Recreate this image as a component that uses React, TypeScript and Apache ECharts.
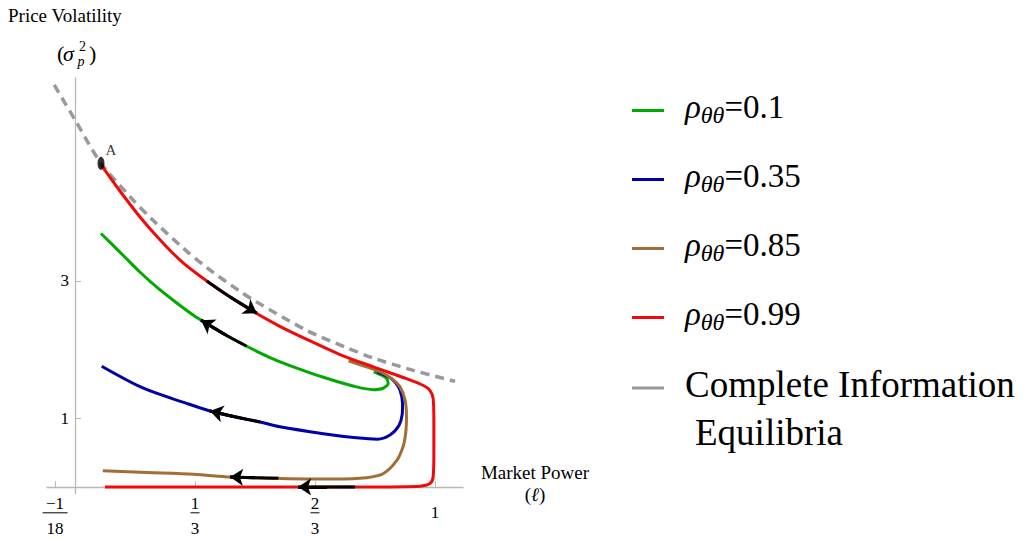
import React, { useEffect, useRef } from 'react';
import * as echarts from 'echarts';

const FONT = 'Liberation Serif, Times New Roman, serif';

// Axis ranges
const xMin = -0.078;
const xMax = 1.078;
const yMin = -0.09;
const yMax = 5.95;

// Tick values and labels
const xTickValues = [-1 / 18, 1 / 3, 2 / 3, 1];
const xTickNumerators = ['−1', '1', '2', '1'];
const xTickDenominators = ['18', '3', '3', ''];
const yTickValues = [1, 3];

// Legend texts
const rhoValues = ['0.1', '0.35', '0.85', '0.99'];
const seriesNames = rhoValues.map((v) => `ρθθ=${v}`);
const completeName = 'Complete Information Equilibria';
const seriesColors = ['#00aa00', '#0000aa', '#a36d36', '#f00a0a'];
const completeColor = '#999999';

// Curves: [market power, price volatility]
const completeInfo = [
  [-0.058, 5.85], [0, 5.34], [0.071, 4.72], [0.15, 4.24], [0.213, 3.9], [0.3, 3.48],
  [0.367, 3.19], [0.458, 2.85], [0.506, 2.69], [0.644, 2.28], [0.75, 2.04], [0.828, 1.88],
  [0.94, 1.7], [1.056, 1.54],
];
const rho010 = [
  [0.072, 3.69], [0.134, 3.37], [0.18, 3.13], [0.227, 2.91], [0.28, 2.69], [0.329, 2.5],
  [0.356, 2.41], [0.42, 2.21], [0.477, 2.05], [0.54, 1.89], [0.597, 1.77], [0.69, 1.6],
  [0.782, 1.46], [0.829, 1.42], [0.856, 1.44], [0.87, 1.51], [0.866, 1.58], [0.852, 1.63],
  [0.83, 1.68],
];
const rho035 = [
  [0.074, 1.76], [0.19, 1.44], [0.31, 1.22], [0.375, 1.11], [0.44, 1.03], [0.514, 0.95],
  [0.569, 0.88], [0.69, 0.78], [0.782, 0.72], [0.84, 0.7], [0.875, 0.76], [0.9, 0.9],
  [0.909, 1.06], [0.91, 1.22], [0.903, 1.41], [0.889, 1.53], [0.87, 1.61], [0.84, 1.68],
];
const rho085 = [
  [0.077, 0.24], [0.2, 0.215], [0.329, 0.19], [0.431, 0.15], [0.5, 0.14], [0.565, 0.13],
  [0.718, 0.12], [0.81, 0.14], [0.857, 0.2], [0.894, 0.39], [0.912, 0.6], [0.919, 0.8],
  [0.921, 1.02], [0.917, 1.27], [0.903, 1.46], [0.88, 1.58], [0.847, 1.68], [0.81, 1.75],
  [0.76, 1.84],
];
const rho099 = [
  [0.072, 4.69], [0.12, 4.34], [0.185, 3.9], [0.25, 3.52], [0.301, 3.26], [0.366, 3.0],
  [0.43, 2.77], [0.5, 2.54], [0.569, 2.34], [0.644, 2.15], [0.736, 1.93], [0.829, 1.75],
  [0.921, 1.58], [0.968, 1.48], [0.986, 1.41], [0.995, 1.29], [0.997, 0.98], [0.997, 0.5],
  [0.995, 0.15], [0.986, 0.054], [0.958, 0.016], [0.83, 0.006], [0.083, 0.006],
];

// Direction arrows (tail ... tip)
const arrowRedTop = [[0.366, 3.0], [0.43, 2.77], [0.505, 2.53]];
const arrowGreen = [[0.477, 2.05], [0.42, 2.21], [0.35, 2.43]];
const arrowBlue = [[0.514, 0.95], [0.44, 1.03], [0.375, 1.11]];
const arrowBrown = [[0.565, 0.13], [0.5, 0.14], [0.431, 0.15]];
const arrowRedBottom = [[0.778, 0.006], [0.7, 0.006], [0.62, 0.006]];
const arrows = [arrowRedTop, arrowGreen, arrowBlue, arrowBrown, arrowRedBottom];

// Point A
const pointA = [[0.072, 4.71]];

// Grid box
const GRID = { left: 47, top: 78, width: 416, height: 415.5 };

export default function App() {
  const ref = useRef<HTMLDivElement>(null);
  useEffect(() => {
    if (!ref.current) return;
    const chart = echarts.init(ref.current, null, { renderer: 'svg' });

    // move axes so they cross at (0, 0)
    const xAxisOffset = -((0 - yMin) / (yMax - yMin)) * GRID.height;
    const yAxisOffset = -((0 - xMin) / (xMax - xMin)) * GRID.width;

    const curveSeries = [rho010, rho035, rho085, rho099].map((d, i) => ({
      name: seriesNames[i],
      type: 'line',
      data: d,
      smooth: 0.3,
      showSymbol: false,
      symbol: 'none',
      color: seriesColors[i],
      lineStyle: { color: seriesColors[i], width: 3 },
      z: 3 + i,
    }));

    const arrowBodies = arrows.map((a) => ({
      type: 'line',
      data: a,
      smooth: 0.3,
      showSymbol: false,
      symbol: 'none',
      lineStyle: { color: '#000', width: 3 },
      z: 10,
    }));

    const option: any = {
      animation: false,
      grid: { ...GRID, outerBoundsMode: 'none' },
      xAxis: {
        type: 'value',
        min: xMin,
        max: xMax,
        offset: xAxisOffset,
        name: '{a|Market Power}\n{b|(}{c|ℓ}{b|)}',
        nameLocation: 'end',
        nameGap: 72,
        nameTextStyle: {
          align: 'center',
          verticalAlign: 'middle',
          padding: [0, 0, 8, 0],
          rich: {
            a: { fontFamily: FONT, fontSize: 19, color: '#000', lineHeight: 22 },
            b: { fontFamily: FONT, fontSize: 19, color: '#000', lineHeight: 22 },
            c: { fontFamily: FONT, fontSize: 19, fontStyle: 'italic', color: '#000', lineHeight: 22 },
          },
        },
        axisLine: { onZero: false, lineStyle: { color: '#b8b8b8', width: 1.3 } },
        axisTick: { inside: true, length: 6, customValues: xTickValues, lineStyle: { color: '#b8b8b8' } },
        splitLine: { show: false },
        axisLabel: {
          customValues: xTickValues,
          margin: 8,
          formatter: (v: number) => {
            let idx = 0;
            xTickValues.forEach((t, i) => { if (Math.abs(t - v) < 1e-6) idx = i; });
            const den = xTickDenominators[idx];
            if (!den) return `{o|${xTickNumerators[idx]}}`;
            const bar = den.length > 1 ? 'bw' : 'b';
            return `{n|${xTickNumerators[idx]}}\n{${bar}| }\n{d|${den}}`;
          },
          rich: {
            n: { fontFamily: FONT, fontSize: 17, color: '#000', lineHeight: 16, align: 'center' },
            b: { width: 9, height: 1, lineHeight: 3, fontSize: 1, backgroundColor: '#000', align: 'center' },
            bw: { width: 25, height: 1, lineHeight: 3, fontSize: 1, backgroundColor: '#000', align: 'center' },
            d: { fontFamily: FONT, fontSize: 17, color: '#000', lineHeight: 28, align: 'center' },
            o: { fontFamily: FONT, fontSize: 17, color: '#000', lineHeight: 35 },
          },
        },
      },
      yAxis: {
        type: 'value',
        min: yMin,
        max: yMax,
        offset: yAxisOffset,
        axisLine: { onZero: false, lineStyle: { color: '#b8b8b8', width: 1.3 } },
        axisTick: { inside: true, length: 6, customValues: yTickValues, lineStyle: { color: '#b8b8b8' } },
        splitLine: { show: false },
        axisLabel: {
          customValues: yTickValues,
          margin: 6,
          fontFamily: FONT,
          fontSize: 17,
          color: '#000',
        },
      },
      legend: [
        {
          data: seriesNames,
          orient: 'vertical',
          left: 632,
          top: 90,
          padding: 0,
          itemGap: 32.5,
          itemWidth: 32,
          itemHeight: 3,
          icon: 'rect',
          selectedMode: false,
          formatter: (name: string) => {
            const i = seriesNames.indexOf(name);
            return `{r|ρ}{s|θθ}{n|=${rhoValues[i]}}`;
          },
          textStyle: {
            padding: [0, 0, 8, 16],
            rich: {
              r: { fontFamily: FONT, fontStyle: 'italic', fontSize: 33, lineHeight: 40, color: '#000' },
              s: { fontFamily: FONT, fontStyle: 'italic', fontSize: 24, lineHeight: 22, verticalAlign: 'bottom', color: '#000' },
              n: { fontFamily: FONT, fontSize: 33, lineHeight: 40, color: '#000' },
            },
          },
        },
        {
          data: [completeName],
          orient: 'vertical',
          left: 632,
          top: 331,
          padding: 0,
          itemWidth: 32,
          itemHeight: 3,
          icon: 'rect',
          selectedMode: false,
          formatter: () => '{e| }\n{a|Complete Information}\n{a2|Equilibria}',
          textStyle: {
            padding: [0, 0, 8, 16],
            rich: {
              e: { fontSize: 10, lineHeight: 48 },
              a: { fontFamily: FONT, fontSize: 37, lineHeight: 48, color: '#000' },
              a2: { fontFamily: FONT, fontSize: 37, lineHeight: 48, color: '#000', padding: [0, 0, 0, 10] },
            },
          },
        },
      ],
      graphic: [
        { type: 'text', x: 8, y: 15, style: { text: 'Price Volatility', fontFamily: FONT, fontSize: 19, fill: '#000', verticalAlign: 'middle' } },
        { type: 'text', x: 57, y: 53.5, style: { text: '(', fontFamily: FONT, fontSize: 22, fill: '#000', verticalAlign: 'middle' } },
        { type: 'text', x: 63, y: 53.5, style: { text: 'σ', fontFamily: FONT, fontSize: 22, fontStyle: 'italic', fill: '#000', verticalAlign: 'middle' } },
        { type: 'text', x: 79, y: 46, style: { text: '2', fontFamily: FONT, fontSize: 14, fill: '#000', verticalAlign: 'middle' } },
        { type: 'text', x: 77.5, y: 61.5, style: { text: 'p', fontFamily: FONT, fontSize: 14, fontStyle: 'italic', fill: '#000', verticalAlign: 'middle' } },
        { type: 'text', x: 89, y: 53.5, style: { text: ')', fontFamily: FONT, fontSize: 22, fill: '#000', verticalAlign: 'middle' } },
      ],
      series: [
        {
          name: completeName,
          type: 'line',
          data: completeInfo,
          smooth: 0.3,
          showSymbol: false,
          symbol: 'none',
          color: completeColor,
          lineStyle: { color: completeColor, width: 3.5, type: [9, 6] },
          z: 2,
        },
        ...curveSeries,
        ...arrowBodies,
        {
          type: 'lines',
          coordinateSystem: 'cartesian2d',
          symbol: ['none', 'arrow'],
          symbolSize: 13,
          lineStyle: { color: '#000', width: 3, opacity: 1 },
          data: arrows.map((a) => ({ coords: [a[a.length - 2], a[a.length - 1]] })),
          z: 11,
        },
        {
          type: 'scatter',
          data: pointA,
          symbol: 'circle',
          symbolSize: [7, 13],
          itemStyle: { color: '#000' },
          label: {
            show: true,
            formatter: 'A',
            position: [8, -14],
            align: 'left',
            verticalAlign: 'top',
            fontFamily: FONT,
            fontSize: 15,
            color: '#000',
          },
          z: 12,
        },
      ],
    };
    chart.setOption(option);
    return () => chart.dispose();
  }, []);
  return (
    <div
      ref={ref}
      style={{ position: 'fixed', left: 0, top: 0, width: 1035, height: 540, background: '#fff' }}
    />
  );
}
